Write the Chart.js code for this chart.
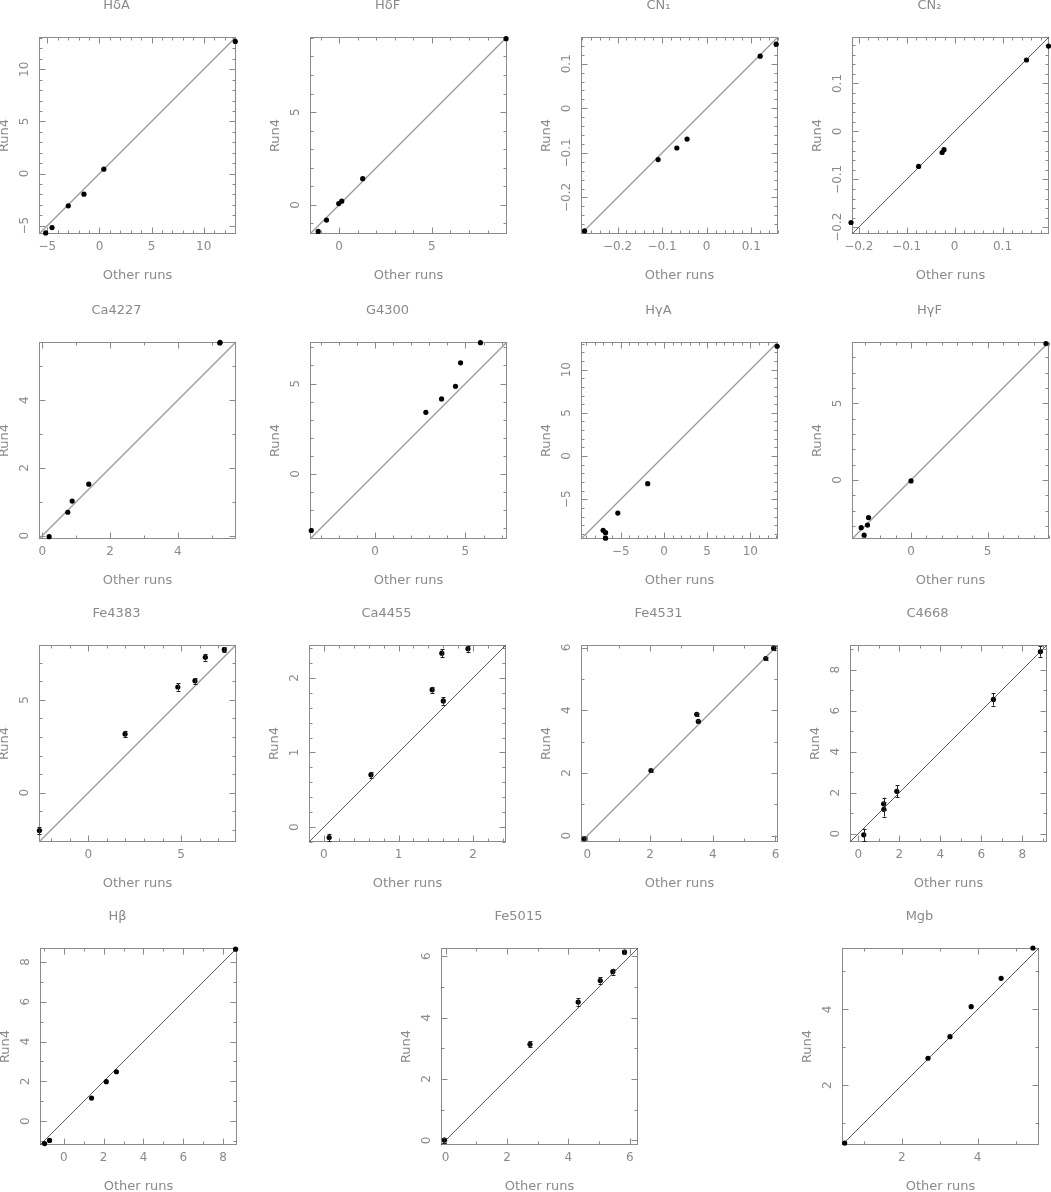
<!DOCTYPE html>
<html>
<head>
<meta charset="utf-8">
<script src="https://cdn.jsdelivr.net/npm/chart.js@4.4.0/dist/chart.umd.min.js"></script>
<style>
  html, body { margin: 0; padding: 0; background: #fff; }
  body { width: 1051px; height: 1192px; position: relative; overflow: hidden; }
  canvas.panel { position: absolute; }
</style>
</head>
<body>
<script>
// Run4 against the other runs, one panel per line index

const indexNames = ['HδA', 'HδF', 'CN₁', 'CN₂', 'Ca4227', 'G4300', 'HγA', 'HγF',
  'Fe4383', 'Ca4455', 'Fe4531', 'C4668', 'Hβ', 'Fe5015', 'Mgb'];

// x = other runs, y = Run4, err = Run4 error (where the bars show)
const hdaOther = [-5.16, -4.55, -2.99, -1.49, 0.42, 13.03];
const hdaRun4 = [-5.70, -5.18, -3.10, -1.98, 0.42, 12.68];

const hdfOther = [-1.13, -0.68, -0.02, 0.14, 1.27, 9.00];
const hdfRun4 = [-1.43, -0.82, 0.07, 0.20, 1.41, 8.96];

const cn1Other = [-0.274, -0.109, -0.067, -0.044, 0.120, 0.156];
const cn1Run4 = [-0.275, -0.115, -0.089, -0.069, 0.117, 0.144];

const cn2Other = [-0.216, -0.075, -0.026, -0.022, 0.150, 0.196];
const cn2Run4 = [-0.190, -0.073, -0.044, -0.038, 0.149, 0.178];

const ca4227Other = [0.20, 0.75, 0.88, 1.37, 5.24, 5.25];
const ca4227Run4 = [-0.03, 0.69, 1.02, 1.52, 5.69, 5.71];

const g4300Other = [-3.53, 2.81, 3.68, 4.45, 4.73, 5.83];
const g4300Run4 = [-3.13, 3.41, 4.15, 4.85, 6.15, 7.26];

const hgaOther = [-7.04, -6.76, -6.76, -5.34, -1.88, 13.10];
const hgaRun4 = [-8.60, -8.87, -9.50, -6.60, -3.20, 12.70];

const hgfOther = [-3.25, -3.06, -2.84, -2.77, 0.00, 8.80];
const hgfRun4 = [-3.11, -3.60, -2.94, -2.45, -0.06, 8.90];

const fe4383Other = [-2.63, 1.98, 4.82, 5.74, 6.30, 7.32];
const fe4383Run4 = [-2.03, 3.16, 5.69, 6.02, 7.29, 7.70];
const fe4383Err = [0.18, 0.18, 0.20, 0.15, 0.18, 0.12];

const ca4455Other = [0.07, 0.63, 1.45, 1.60, 1.58, 1.93];
const ca4455Run4 = [-0.14, 0.70, 1.84, 1.69, 2.33, 2.39];
const ca4455Err = [0.05, 0.04, 0.04, 0.05, 0.05, 0.04];

const fe4531Other = [-0.10, 2.03, 3.49, 3.54, 5.69, 5.94];
const fe4531Run4 = [-0.10, 2.08, 3.87, 3.65, 5.65, 5.98];
const fe4531Err = [0.05, 0.05, 0.05, 0.05, 0.06, 0.06];

const c4668Other = [0.27, 1.24, 1.25, 1.88, 6.59, 8.88];
const c4668Run4 = [-0.05, 1.46, 1.19, 2.07, 6.55, 8.88];
const c4668Err = [0.30, 0.30, 0.35, 0.30, 0.30, 0.25];

const hbOther = [-0.97, -0.72, 1.39, 2.13, 2.64, 8.63];
const hbRun4 = [-1.13, -0.97, 1.16, 1.98, 2.48, 8.64];

const fe5015Other = [-0.04, 2.75, 4.32, 5.04, 5.45, 5.83];
const fe5015Run4 = [0.01, 3.13, 4.51, 5.21, 5.50, 6.14];
const fe5015Err = [0.08, 0.10, 0.12, 0.10, 0.10, 0.08];

const mgbOther = [0.49, 2.69, 3.27, 3.83, 4.62, 5.46];
const mgbRun4 = [0.47, 2.71, 3.28, 4.07, 4.82, 5.62];

const panelOther = [hdaOther, hdfOther, cn1Other, cn2Other, ca4227Other, g4300Other, hgaOther, hgfOther,
  fe4383Other, ca4455Other, fe4531Other, c4668Other, hbOther, fe5015Other, mgbOther];
const panelRun4 = [hdaRun4, hdfRun4, cn1Run4, cn2Run4, ca4227Run4, g4300Run4, hgaRun4, hgfRun4,
  fe4383Run4, ca4455Run4, fe4531Run4, c4668Run4, hbRun4, fe5015Run4, mgbRun4];
const panelErr = [null, null, null, null, null, null, null, null,
  fe4383Err, ca4455Err, fe4531Err, c4668Err, null, fe5015Err, null];

// axis limits (same on both axes) and tick steps
const axisMin = [-5.8, -1.57, -0.282, -0.214, -0.1, -3.6, -9.6, -3.85, -2.65, -0.2, -0.2, -0.4, -1.2, -0.15, 0.42];
const axisMax = [13.1, 9.05, 0.16, 0.197, 5.72, 7.3, 13.2, 9.0, 7.95, 2.44, 6.08, 9.2, 8.7, 6.27, 5.62];
const majorStep = [5, 5, 0.1, 0.1, 2, 5, 5, 5, 5, 1, 2, 2, 2, 2, 2];
const minorStep = [1, 1, 0.02, 0.02, 1, 1, 1, 1, 1, 0.2, 1, 1, 1, 1, 1];

// page layout: top-left corner of each plot box
const boxLeft = [39, 310, 581, 852, 39, 310, 581, 852, 39, 309, 581, 850, 40, 441, 842];
const boxTop = [37, 37, 37, 37, 342, 342, 342, 342, 645, 645, 645, 645, 948, 948, 948, 948];
const BOX = 197;
const darkDiagonal = [false, false, false, true, false, false, false, false, false, true, false, true, true, true, true];

const FONT = "'DejaVu Sans', sans-serif";
const GREY = '#8a8a8a';

function tickText(v) {
  return String(+v.toFixed(4)).replace('-', '\u2212');
}

// width of the widest y label, so the rotated labels sit at a fixed distance
const measureCtx = document.createElement('canvas').getContext('2d');
measureCtx.font = "12px " + FONT;
function widestLabel(min, max, step) {
  let w = 0;
  for (let k = Math.ceil(min / step - 1e-9); k * step <= max + 1e-9; k++) {
    w = Math.max(w, measureCtx.measureText(tickText(k * step)).width);
  }
  return w;
}

// box round the plot, with inward ticks on all four sides
const frameTicks = {
  id: 'frameTicks',
  beforeDatasetsDraw(chart, args, opts) {
    const { ctx, chartArea: a, scales: { x, y } } = chart;
    const L = Math.round(a.left) + 0.5, R = Math.round(a.right) - 0.5;
    const T = Math.round(a.top) + 0.5, B = Math.round(a.bottom) - 0.5;
    ctx.save();
    ctx.strokeStyle = GREY;
    ctx.lineWidth = 1;
    ctx.strokeRect(L, T, R - L, B - T);
    ctx.beginPath();
    const isMajor = v => Math.abs(v / opts.major - Math.round(v / opts.major)) < 1e-6;
    const start = k => Math.ceil(k / opts.minor - 1e-9);
    for (let k = start(x.min); k * opts.minor <= x.max + 1e-9; k++) {
      const v = k * opts.minor;
      const len = isMajor(v) ? 6 : 3;
      const px = Math.round(x.getPixelForValue(v)) + 0.5;
      ctx.moveTo(px, B); ctx.lineTo(px, B - len);
      ctx.moveTo(px, T); ctx.lineTo(px, T + len);
    }
    for (let k = start(y.min); k * opts.minor <= y.max + 1e-9; k++) {
      const v = k * opts.minor;
      const len = isMajor(v) ? 6 : 3;
      const py = Math.round(y.getPixelForValue(v)) + 0.5;
      ctx.moveTo(L, py); ctx.lineTo(L + len, py);
      ctx.moveTo(R, py); ctx.lineTo(R - len, py);
    }
    ctx.stroke();
    ctx.restore();
  }
};

// vertical error bars on Run4
const errorBars = {
  id: 'errorBars',
  afterDatasetsDraw(chart, args, opts) {
    if (!opts.err) return;
    const { ctx, scales: { y } } = chart;
    const ds = chart.data.datasets[0].data;
    const meta = chart.getDatasetMeta(0);
    ctx.save();
    ctx.strokeStyle = '#222';
    ctx.lineWidth = 1;
    ctx.beginPath();
    meta.data.forEach((pt, i) => {
      const e = opts.err[i];
      if (!e) return;
      const px = Math.round(pt.x) + 0.5;
      const y1 = y.getPixelForValue(ds[i].y - e);
      const y2 = y.getPixelForValue(ds[i].y + e);
      ctx.moveTo(px, y1); ctx.lineTo(px, y2);
      ctx.moveTo(px - 2, Math.round(y1) + 0.5); ctx.lineTo(px + 2, Math.round(y1) + 0.5);
      ctx.moveTo(px - 2, Math.round(y2) + 0.5); ctx.lineTo(px + 2, Math.round(y2) + 0.5);
    });
    ctx.stroke();
    ctx.restore();
  }
};

function makePanel(i) {
  const canvas = document.createElement('canvas');
  canvas.className = 'panel';
  canvas.width = 42 + BOX + 8;
  canvas.height = 39 + BOX + 49;
  canvas.style.left = (boxLeft[i] - 42) + 'px';
  canvas.style.top = (boxTop[i] - 39) + 'px';
  document.body.appendChild(canvas);

  const min = axisMin[i], max = axisMax[i];
  const points = panelOther[i].map((v, k) => ({ x: v, y: panelRun4[i][k] }));
  const yPad = 14 - widestLabel(min, max, majorStep[i]) / 2;
  const tickFont = { family: FONT, size: 12 };
  const titleFont = { family: FONT, size: 13 };

  new Chart(canvas, {
    type: 'scatter',
    data: {
      datasets: [
        {
          data: points,
          pointRadius: 2.6,
          pointBackgroundColor: '#000',
          pointBorderWidth: 0,
          clip: false
        },
        {
          data: [{ x: min, y: min }, { x: max, y: max }],
          showLine: true,
          pointRadius: 0,
          borderColor: darkDiagonal[i] ? '#333' : '#9a9a9a',
          borderWidth: darkDiagonal[i] ? 0.8 : 1.2,
          clip: false
        }
      ]
    },
    options: {
      responsive: false,
      animation: false,
      events: [],
      layout: { padding: { left: 0, top: 0, right: 8, bottom: 0 } },
      plugins: {
        legend: { display: false },
        tooltip: { enabled: false },
        title: {
          display: true,
          text: indexNames[i],
          color: GREY,
          font: { family: FONT, size: 13, weight: 'normal', lineHeight: '16px' },
          padding: { top: 0, bottom: 23 }
        },
        frameTicks: { major: majorStep[i], minor: minorStep[i] },
        errorBars: { err: panelErr[i] }
      },
      scales: {
        x: {
          type: 'linear',
          min: min,
          max: max,
          grid: { display: false, drawTicks: false },
          border: { display: false },
          ticks: {
            stepSize: majorStep[i],
            includeBounds: false,
            autoSkip: false,
            maxRotation: 0,
            padding: 6,
            color: GREY,
            font: tickFont,
            callback: v => tickText(v)
          },
          title: { display: true, text: 'Other runs', color: GREY, font: titleFont, padding: 0 },
          afterFit: s => { s.height = 49; }
        },
        y: {
          type: 'linear',
          min: min,
          max: max,
          grid: { display: false, drawTicks: false },
          border: { display: false },
          ticks: {
            stepSize: majorStep[i],
            includeBounds: false,
            autoSkip: false,
            minRotation: 90,
            maxRotation: 90,
            crossAlign: 'center',
            padding: yPad,
            color: GREY,
            font: tickFont,
            callback: v => tickText(v)
          },
          title: { display: true, text: 'Run4', color: GREY, font: titleFont, padding: 0 },
          afterFit: s => { s.width = 42; }
        }
      }
    },
    plugins: [frameTicks, errorBars]
  });
}

indexNames.forEach((name, i) => makePanel(i));
</script>
</body>
</html>
